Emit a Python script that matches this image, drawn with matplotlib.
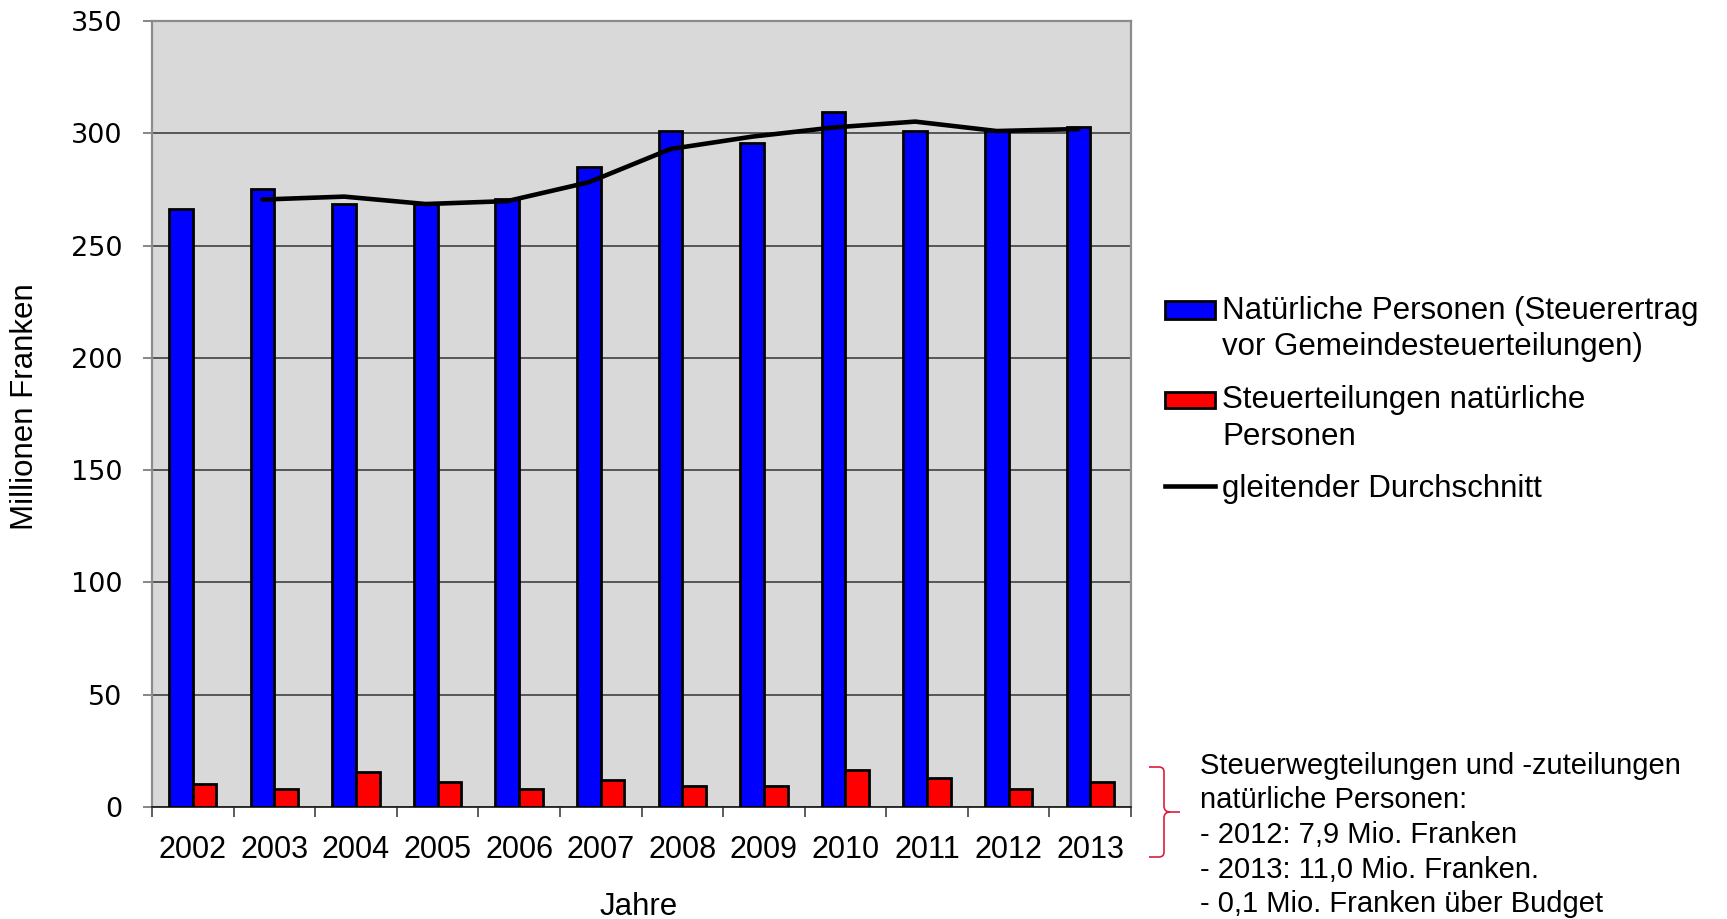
import numpy as np
import matplotlib.pyplot as plt
from matplotlib.patches import Rectangle, PathPatch
from matplotlib.lines import Line2D
from matplotlib.path import Path

plt.rcParams['font.family'] = 'Liberation Sans'

# Steuerertrag natuerliche Personen, Mio. Franken
jahre = ['2002', '2003', '2004', '2005', '2006', '2007',
         '2008', '2009', '2010', '2011', '2012', '2013']
natuerliche_personen = [266.2, 275.2, 268.3, 268.6, 270.9, 284.9,
                        301.2, 295.7, 309.4, 300.9, 301.0, 302.8]
steuerteilungen = [10.4, 7.9, 15.6, 11.3, 8.0, 12.0,
                   9.2, 9.3, 16.3, 12.8, 7.9, 11.0]
# gleitender Durchschnitt (erst ab 2003)
durchschnitt_jahre = jahre[1:]
durchschnitt = [270.5, 271.8, 268.5, 269.8, 278.2, 293.0,
                298.5, 302.6, 305.2, 301.0, 301.9]

W, H = 1727, 919
fig = plt.figure(figsize=(W / 100, H / 100), dpi=100)


def fx(px):
    return px / W


def fy(py):
    return 1 - py / H


ax = fig.add_axes([fx(152), fy(807), (1131 - 152) / W, (807 - 21) / H])
ax.set_facecolor('#D9D9D9')

x = np.arange(len(jahre))
bw = 0.29
ax.bar(x - bw / 2, natuerliche_personen, bw, color='#0000FF',
       edgecolor='black', linewidth=2.0, zorder=3)
ax.bar(x + bw / 2, steuerteilungen, bw, color='#FF0000',
       edgecolor='black', linewidth=2.0, zorder=3)

xd = np.array([jahre.index(j) for j in durchschnitt_jahre]) - bw / 2
ax.plot(xd, durchschnitt, color='black', lw=3.3,
        solid_joinstyle='round', solid_capstyle='round', zorder=4)

ax.set_xlim(-0.5, len(jahre) - 0.5)
ax.set_ylim(0, 350)
ax.set_yticks(range(0, 351, 50))
ax.grid(axis='y', color='#333333', lw=1.1)
ax.set_axisbelow(True)

# tick marks between the years, labels centred on the years
ax.set_xticks(np.arange(-0.5, len(jahre), 1))
ax.set_xticklabels([])
ax.set_xticks(x, minor=True)
ax.set_xticklabels(jahre, minor=True, fontsize=22)
ax.tick_params(axis='x', which='minor', length=0, pad=20)
ax.tick_params(axis='x', which='major', length=7, width=1.1, color='#333333')
ax.tick_params(axis='y', length=6.5, width=1.1, color='#666666', pad=15,
               labelsize=19.5, labelfontfamily='DejaVu Sans')

for side in ['top', 'right', 'left']:
    ax.spines[side].set_color('#8c8c8c')
    ax.spines[side].set_linewidth(1.6)
ax.spines['bottom'].set_color('#222222')
ax.spines['bottom'].set_linewidth(1.3)

fig.text(fx(25), fy(407), 'Millionen Franken', rotation=90,
         ha='center', va='center', fontsize=22.5)
fig.text(fx(639), fy(915), 'Jahre', ha='center', va='baseline', fontsize=22.5)

# legend
fs_leg = 22.5
fig.add_artist(Rectangle((fx(1165), fy(319)), 50 / W, 18 / H,
                         transform=fig.transFigure, facecolor='#0000FF',
                         edgecolor='black', lw=2.0))
fig.text(fx(1222), fy(319), 'Natürliche Personen (Steuerertrag',
         va='baseline', fontsize=fs_leg)
fig.text(fx(1222), fy(355), 'vor Gemeindesteuerteilungen)',
         va='baseline', fontsize=fs_leg)
fig.add_artist(Rectangle((fx(1165), fy(408)), 50 / W, 16 / H,
                         transform=fig.transFigure, facecolor='#FF0000',
                         edgecolor='black', lw=2.0))
fig.text(fx(1222), fy(408), 'Steuerteilungen natürliche',
         va='baseline', fontsize=fs_leg)
fig.text(fx(1222), fy(445), 'Personen', va='baseline', fontsize=fs_leg)
fig.add_artist(Line2D([fx(1165), fx(1215)], [fy(486), fy(486)],
                      transform=fig.transFigure, color='black', lw=3.3))
fig.text(fx(1222), fy(497), 'gleitender Durchschnitt',
         va='baseline', fontsize=fs_leg)

# note with brace
note = ['Steuerwegteilungen und -zuteilungen',
        'natürliche Personen:',
        '- 2012: 7,9 Mio. Franken',
        '- 2013: 11,0 Mio. Franken.',
        '- 0,1 Mio. Franken über Budget']
for i, line in enumerate(note):
    fig.text(fx(1200), fy(774 + 34.5 * i), line, va='baseline', fontsize=21)

brace_px = [(1149, 767), (1159, 767), (1164, 767), (1164, 772), (1164, 806),
            (1164, 812), (1170, 812), (1180, 812),
            (1170, 812), (1164, 812), (1164, 818), (1164, 852),
            (1164, 857), (1159, 857), (1149, 857)]
codes = [Path.MOVETO, Path.LINETO, Path.CURVE3, Path.CURVE3, Path.LINETO,
         Path.CURVE3, Path.CURVE3, Path.LINETO,
         Path.MOVETO, Path.CURVE3, Path.CURVE3, Path.LINETO,
         Path.CURVE3, Path.CURVE3, Path.LINETO]
brace = Path([(fx(a), fy(b)) for a, b in brace_px], codes)
fig.add_artist(PathPatch(brace, transform=fig.transFigure, facecolor='none',
                         edgecolor='#DC1E3C', lw=1.2))

fig.savefig('out.png', dpi=100)
